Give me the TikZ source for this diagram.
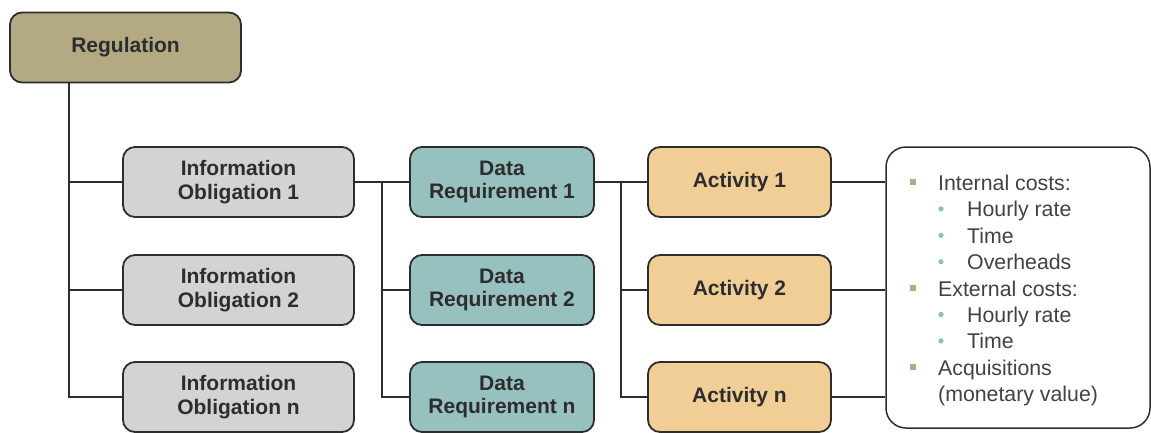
\documentclass[tikz,border=0pt]{standalone}
\usepackage{fontspec}
\setmainfont{Liberation Sans}
\definecolor{regfill}{RGB}{179,170,132}
\definecolor{iofill}{RGB}{211,211,211}
\definecolor{drfill}{RGB}{150,193,190}
\definecolor{actfill}{RGB}{241,206,150}
\definecolor{edge}{RGB}{45,45,45}
\definecolor{txt}{RGB}{45,45,45}
\definecolor{sqbullet}{RGB}{181,170,130}
\definecolor{dotbullet}{RGB}{143,191,188}
\tikzset{
  box/.style={draw=edge, line width=1.8pt, rounded corners=12pt, text=txt,
    font=\bfseries\fontsize{21}{23.5}\selectfont, align=center, inner sep=0pt,
    minimum height=70pt},
  regbox/.style={box, fill=regfill, minimum width=231pt},
  iobox/.style={box, fill=iofill, minimum width=231pt},
  drbox/.style={box, fill=drfill, minimum width=184pt},
  actbox/.style={box, fill=actfill, minimum width=183pt},
  mainline/.style={draw=edge, line width=2.6pt},
  subline/.style={draw=edge, line width=1.6pt},
  costline/.style={draw=edge, line width=1.4pt},
  item/.style={anchor=base west, inner sep=0pt, text=txt!90,
    font=\fontsize{21.3}{24}\selectfont},
  sq/.style={fill=sqbullet, draw=none},
  dot/.style={fill=dotbullet, draw=none}
}
\begin{document}
\begin{tikzpicture}[x=1pt, y=-1pt]
\useasboundingbox (0,0) rectangle (1151,432);

% boxes
\node[regbox] (reg) at (125.5,47.5) {Regulation};
\node[iobox] (io1) at (238.5,182) {Information\\Obligation 1};
\node[iobox] (io2) at (238.5,290) {Information\\Obligation 2};
\node[iobox] (ion) at (238.5,397) {Information\\Obligation n};
\node[drbox] (dr1) at (502,182) {Data\\Requirement 1};
\node[drbox] (dr2) at (502,290) {Data\\Requirement 2};
\node[drbox] (drn) at (502,397) {Data\\Requirement n};
\node[actbox] (act1) at (739.5,182) {Activity 1};
\node[actbox] (act2) at (739.5,290) {Activity 2};
\node[actbox] (actn) at (739.5,397) {Activity n};
\node[draw=edge, line width=1.5pt, rounded corners=20pt, fill=white,
      minimum width=264pt, minimum height=281pt, inner sep=0pt]
      (costs) at (1018,287.5) {};

% bus positions
\coordinate (busA) at (69,0);
\coordinate (busB) at (382,0);
\coordinate (busC) at (621,0);

% regulation to information obligations
\draw[subline] (busA |- io1) -- (busA |- ion) -- (ion.west);
\draw[subline] (busA |- io1) -- (io1.west);
\draw[subline] (busA |- io2) -- (io2.west);
\draw[mainline] (busA |- reg.south) -- (busA |- io1);

% information obligation to data requirements
\draw[subline] (busB |- io1) -- (dr1.west);
\draw[subline] (busB |- io1) -- (busB |- drn) -- (drn.west);
\draw[subline] (busB |- dr2) -- (dr2.west);
\draw[mainline] (io1.east) -- (busB |- io1);

% data requirement to activities
\draw[subline] (busC |- dr1) -- (act1.west);
\draw[subline] (busC |- dr1) -- (busC |- actn) -- (actn.west);
\draw[subline] (busC |- act2) -- (act2.west);
\draw[mainline] (dr1.east) -- (busC |- dr1);

% activities to cost list
\draw[costline] (act1.east) -- (costs.west |- act1);
\draw[costline] (act2.east) -- (costs.west |- act2);
\draw[costline] (actn.east) -- (costs.west |- actn);

% cost list
\node[item] (c1) at (938,190.5) {Internal costs:};
\node[item] (c2) at (967,216.9) {Hourly rate};
\node[item] (c3) at (967,243.3) {Time};
\node[item] (c4) at (967,269.7) {Overheads};
\node[item] (c5) at (938,296.1) {External costs:};
\node[item] (c6) at (967,322.5) {Hourly rate};
\node[item] (c7) at (967,348.9) {Time};
\node[item] (c8) at (938,375.3) {Acquisitions};
\node[item] (c9) at (938,401.7) {(monetary value)};

\foreach \y in {190.5,296.1,375.3}
  \fill[sq] (909.5,\y-11.5) rectangle +(6,6);
\foreach \y in {216.9,243.3,269.7,322.5,348.9}
  \fill[dot] (941,\y-8) circle (2.6);
\end{tikzpicture}
\end{document}
